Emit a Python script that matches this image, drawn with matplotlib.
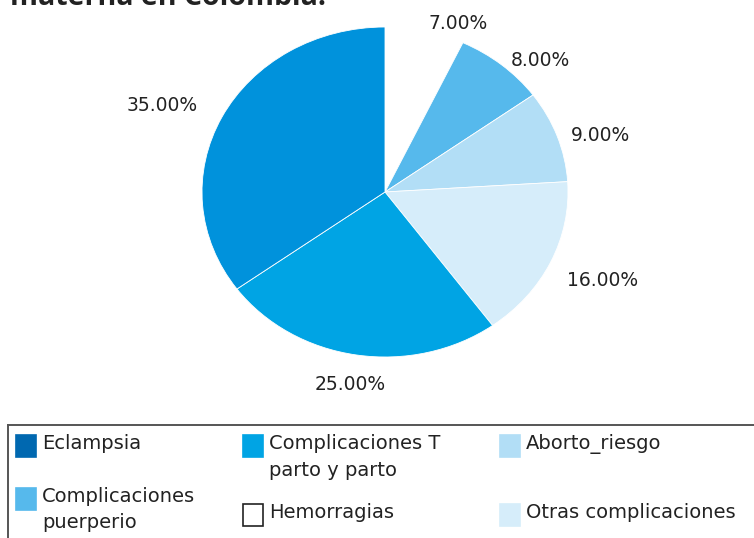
import matplotlib.pyplot as plt
from matplotlib.patches import Rectangle

# pie order (clockwise from 12 o'clock)
causas = ['Hemorragias', 'Complicaciones puerperio', 'Aborto_riesgo',
          'Otras complicaciones', 'Complicaciones T parto y parto', 'Eclampsia']
porcentajes = [7, 8, 9, 16, 25, 35]
colores = ['#ffffff', '#56b9ec', '#b2def6', '#d6edfa', '#00a4e4', '#0092dc']

# legend order (row by row) and its swatch colours
leyenda = ['Eclampsia', 'Complicaciones T\nparto y parto', 'Aborto_riesgo',
           'Complicaciones\npuerperio', 'Hemorragias', 'Otras complicaciones']
leyenda_colores = ['#0068b0', '#00a4e4', '#b2def6', '#56b9ec', '#ffffff', '#d6edfa']

W, H = 754, 538
fig = plt.figure(figsize=(W / 100, H / 100), dpi=100)


def fx(x):
    return x / W


def fy(y):
    return 1 - y / H


# pie axes: centre (385,192), radii 183 x 165 px
cx, cy, rx, ry = 385, 192, 183, 165
xl, yl = 1.5, 1.4
ax = fig.add_axes([fx(cx - xl * rx), fy(cy + yl * ry), 2 * xl * rx / W, 2 * yl * ry / H])

labels = [f'{p:.2f}%' for p in porcentajes]
wedges, texts = ax.pie(porcentajes, colors=colores, labels=labels, startangle=90,
                       counterclock=False, labeldistance=1.08,
                       wedgeprops=dict(edgecolor='white', linewidth=0.6),
                       textprops=dict(family='DejaVu Sans', fontsize=13.5, color='#222222'))
ax.set_aspect('auto')
ax.set_xlim(-xl, xl)
ax.set_ylim(-yl, yl)
ax.axis('off')

# small nudges of the value labels (x, y in pie units)
nudges = [(0.0, -0.03), (0.0, -0.035), (0.0, -0.025), (0.02, -0.075), (-0.02, -0.04), (-0.06, 0.035)]
for t, (dx, dy) in zip(texts, nudges):
    x0, y0 = t.get_position()
    t.set_position((x0 + dx, y0 + dy))
texts[4].set_ha('center')
texts[4].set_va('top')

# cut-off title
fig.text(fx(10), fy(5), 'materna en Colombia.', fontsize=20.5, fontweight='bold',
         family='Open Sans', color='#222222', va='baseline')

# legend frame (runs off the right and bottom edges)
fig.add_artist(plt.Line2D([fx(8), fx(8)], [fy(425), fy(560)], color='#555555', lw=1.4,
                          transform=fig.transFigure))
fig.add_artist(plt.Line2D([fx(8), fx(780)], [fy(425), fy(425)], color='#555555', lw=1.4,
                          transform=fig.transFigure))

col_x = [16, 243, 500]
row_y = [446, 499]
for i, (lab, c) in enumerate(zip(leyenda, leyenda_colores)):
    col, row = i % 3, i // 3
    x = col_x[col]
    y = row_y[row] + (16 if col > 0 and row == 1 else 0)
    ec = '#222222' if c == '#ffffff' else c
    fig.add_artist(Rectangle((fx(x), fy(y + 11)), 20 / W, 22 / H, facecolor=c,
                             edgecolor=ec, lw=1.2, transform=fig.transFigure))
    fig.text(fx(x + 26), fy(y - 12), lab, fontsize=14, family='DejaVu Sans',
             color='#222222', va='top', linespacing=1.5)

fig.savefig('out.png', dpi=100)
